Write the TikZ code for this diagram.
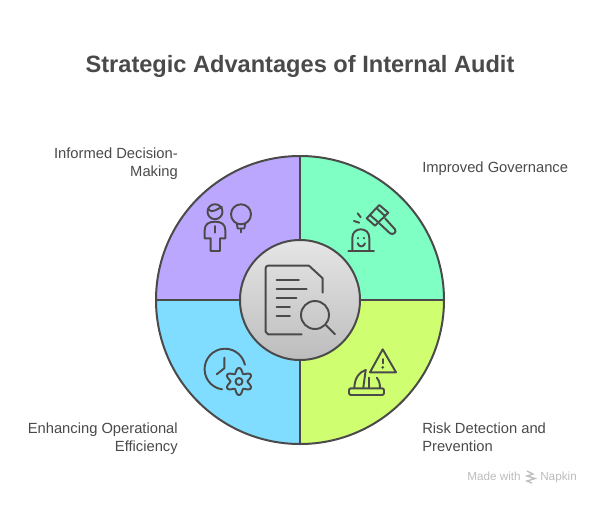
\documentclass[tikz,border=0pt]{standalone}
\usepackage{fontspec}
\setmainfont{Liberation Sans}
\usetikzlibrary{calc}
\definecolor{ink}{HTML}{4A4A4A}
\definecolor{sPurple}{HTML}{BCA7FF}
\definecolor{sGreen}{HTML}{80FFC4}
\definecolor{sLime}{HTML}{CFFF70}
\definecolor{sBlue}{HTML}{80DDFF}
\definecolor{brandgrey}{HTML}{BDBDBD}
\tikzset{
  px/.style={x=0.75pt,y=-0.75pt},
  sector/.style={draw=ink,line width=1.5pt,line join=round},
  glyph/.style={draw=ink,line width=1.45pt,line cap=round,line join=round},
  label/.style={text=ink,font=\fontsize{11.05pt}{13.5pt}\selectfont,inner sep=0pt},
  brand/.style={text=brandgrey,font=\fontsize{8.8pt}{10pt}\selectfont,inner sep=0pt,anchor=west}
}
\begin{document}
\begin{tikzpicture}[px]
\useasboundingbox[fill=white] (0,0) rectangle (600,504);
% sectors
\fill[sPurple] (300,300) -- (156,300) arc[start angle=180,end angle=90,x radius=144,y radius=-144] -- cycle;
\fill[sGreen] (300,300) -- (300,156) arc[start angle=90,end angle=0,x radius=144,y radius=-144] -- cycle;
\fill[sLime] (300,300) -- (444,300) arc[start angle=0,end angle=-90,x radius=144,y radius=-144] -- cycle;
\fill[sBlue] (300,300) -- (300,444) arc[start angle=-90,end angle=-180,x radius=144,y radius=-144] -- cycle;
\draw[sector] (300,300) circle[radius=144];
\draw[sector] (156,300) -- (444,300) (300,156) -- (300,444);
\shade[top color=black!10,bottom color=black!26] (300,300) circle[radius=60];
\draw[sector] (300,300) circle[radius=60];
% centre icon
\draw[glyph] (301.7,334.3) -- (268,334.3) to[out=180,in=90] (265.7,332) -- (265.7,268) to[out=90,in=180] (268,265.7) -- (309,265.7) -- (322.7,278.3) -- (322.7,292.7);
\draw[glyph] (276.7,280) -- (299,280) (276.7,289) -- (306.7,289) (276.7,298) -- (296.3,298) (276.7,307) -- (290,307) (276.7,316) -- (290,316);
\draw[glyph] (315,315) circle[radius=14];
\draw[glyph] (325.7,325) -- (335,334.3);
% person + bulb
\draw[glyph] (215,211.7) circle[radius=7.5];
\draw[glyph] (208,209.5) .. controls (213,214) and (218,208) .. (222,207);
\draw[glyph] (204.7,238.3) -- (204.7,230) .. controls (204.7,224) and (209,221.7) .. (215,221.7) .. controls (221,221.7) and (225.3,224) .. (225.3,230) -- (225.3,238.3) -- (220,238.3) -- (220,251) -- (210.7,251) -- (210.7,238.3) -- cycle;
\draw[glyph] (215,226) -- (215,232.7);
\draw[glyph] (241,214.3) circle[radius=10];
\draw[glyph] (236.7,223.5) -- (237.7,228.5) -- (244.3,228.5) -- (245.3,223.5);
\draw[glyph] (241,228.5) -- (241,232.3);
% dome + hammer
\draw[glyph] (348.3,251) -- (374,251);
\draw[glyph] (352.3,251) -- (352.3,238) .. controls (352.3,232.5) and (356,229.3) .. (360.8,229.3) .. controls (365.6,229.3) and (369.3,232.5) .. (369.3,238) -- (369.3,251);
\draw[glyph] (358.3,237.8) -- (358.3,238.4) (364,237.8) -- (364,238.4);
\draw[glyph] (357.7,243.3) .. controls (359,247.5) and (363.5,247.5) .. (365,243.3);
\draw[glyph] (354,221) -- (359.3,222.7) (357.7,213.3) -- (360.7,217.3);
\draw[glyph] (366.7,218.3) -- (379.3,205) -- (388.3,212.7) -- (375,225.7) -- cycle;
\draw[glyph] (370,215) -- (378.3,222.3) (376.7,208.3) -- (385,216);
\draw[glyph] (385,218.3) -- (395,229.3) .. controls (397,232) and (393,235.5) .. (390,233.3) -- (379.3,223.3);
% clock + gear
\draw[glyph] (244.9,364.7) arc[start angle=12.5,end angle=262,x radius=20.4,y radius=-20.4];
\draw[glyph] (224.3,357.7) -- (224.3,368.3) -- (216.7,374.3);
\draw[glyph,samples=181,domain=0:358,variable=\t] plot ({239+(11+2.5*cos(6*\t))*cos(\t+90)},{381.5-(11+2.5*cos(6*\t))*sin(\t+90)}) -- cycle;
\draw[glyph] (239,381.5) circle[radius=3.5];
% hat + warning
\draw[glyph] (382.7,349.3) -- (370,372.3) -- (396,372.3) -- cycle;
\draw[glyph] (382.7,359) -- (382.7,363.3);
\fill[ink] (382.7,367.4) circle[radius=1.5];
\draw[glyph,rounded corners=1.5pt] (349,388.3) rectangle (384,395);
\draw[glyph] (354.3,387.7) .. controls (354.8,378) and (359,372) .. (365.7,370);
\draw[glyph] (365.7,370) -- (363.3,387.7);
\draw[glyph] (369.3,377.7) -- (369.3,387.7);
\draw[glyph] (376.7,377.7) .. controls (379,380) and (380,384) .. (380,387.7);
% text
\node[text=ink,font=\bfseries\fontsize{17.7pt}{22pt}\selectfont,inner sep=0pt] (title) at (300,66.5) {Strategic Advantages of Internal Audit};
\node[label,anchor=east,align=right] (decision) at (178,163.4) {\strut Informed Decision-\\Making\strut};
\node[label,anchor=west,align=left] (gov) at (422,168.4) {\strut Improved Governance};
\node[label,anchor=west,align=left] (risk) at (422,438.4) {\strut Risk Detection and\\Prevention\strut};
\node[label,anchor=east,align=right] (ops) at (178,438.4) {\strut Enhancing Operational\\Efficiency\strut};
% brand
\node[brand,text height=7pt,text depth=2pt] (made) at (467,477) {Made with};
\node[brand,text height=7pt,text depth=2pt] (napkin) at (540,477) {Napkin};
\draw[brandgrey,line width=1pt] (527,471) -- (533,474) -- (527,476) -- (535,478.5) -- (527,481) -- (532,483);
\end{tikzpicture}
\end{document}
